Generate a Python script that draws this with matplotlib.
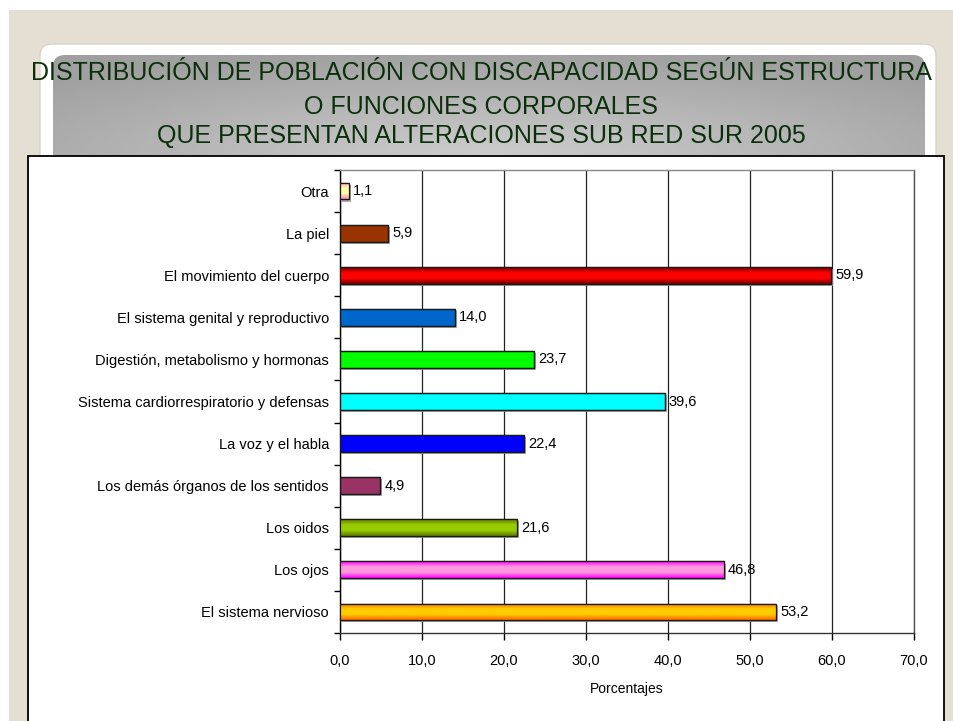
import numpy as np
import matplotlib
matplotlib.use("Agg")
import matplotlib.pyplot as plt
from matplotlib.patches import Rectangle, FancyBboxPatch
from matplotlib.colors import LinearSegmentedColormap
from matplotlib.ticker import FuncFormatter, MultipleLocator
import matplotlib.patheffects as pe

plt.rcParams['font.family'] = ['Liberation Sans', 'DejaVu Sans']

categorias = ["El sistema nervioso", "Los ojos", "Los oidos",
              "Los demás órganos de los sentidos", "La voz y el habla",
              "Sistema cardiorrespiratorio y defensas",
              "Digestión, metabolismo y hormonas",
              "El sistema genital y reproductivo",
              "El movimiento del cuerpo", "La piel", "Otra"]
porcentajes = [53.2, 46.8, 21.6, 4.9, 22.4, 39.6, 23.7, 14.0, 59.9, 5.9, 1.1]
# color base y color de borde del degradado (None = plano)
colores = ["#ffcc00", "#ff99dd", "#99cc00", "#993366", "#0000ff", "#00ffff",
           "#00ff00", "#0066cc", "#ff0000", "#993300", "#ffffaa"]
bordes = ["#ff6600", "#ff00ff", "#5c7a00", None, None, None,
          None, None, "#6a0000", None, "#ff88bb"]

titulo = ["DISTRIBUCIÓN DE POBLACIÓN CON DISCAPACIDAD SEGÚN ESTRUCTURA",
          "O FUNCIONES CORPORALES",
          "QUE PRESENTAN ALTERACIONES SUB RED SUR 2005"]

W, H = 954, 721
fig = plt.figure(figsize=(W / 100, H / 100), dpi=100)
fig.patch.set_facecolor("white")

# fondo tipo diapositiva, en pixeles
bg = fig.add_axes([0, 0, 1, 1])
bg.axis("off")
bg.add_patch(Rectangle((9, 10), W, H, facecolor="#e4ded3", edgecolor="none", zorder=1))
bg.add_patch(FancyBboxPatch((40, 44), 896, 700, boxstyle="round,pad=0,rounding_size=12",
                            facecolor="white", edgecolor="#d8d4cc", lw=1, zorder=2))
banner = FancyBboxPatch((53, 55), 872, 120, boxstyle="round,pad=0,rounding_size=12",
                        facecolor="none", edgecolor="none", zorder=3)
bg.add_patch(banner)
yy, xx = np.mgrid[0:1:120j, 0:1:300j]
r = np.sqrt(((xx - 0.5) / 0.7) ** 2 + ((yy - 0.85) / 0.9) ** 2)
gris = LinearSegmentedColormap.from_list("g", ["#cdcdcd", "#a0a0a0"])
im = bg.imshow(np.clip(r, 0, 1), cmap=gris, extent=[53, 925, 175, 55], aspect="auto",
               zorder=3)
im.set_clip_path(banner)
bg.set_xlim(0, W)
bg.set_ylim(H, 0)
for linea, base in zip(titulo, [80, 114, 143]):
    bg.text(481, base, linea, ha="center", va="baseline", fontsize=18, color="#0b2e0b",
            zorder=4)
bg.add_patch(Rectangle((28, 156), 916, 600, facecolor="white", edgecolor="black", lw=1.3,
                       zorder=5))

# area del grafico
ax = fig.add_axes([340 / W, 1 - 633 / H, (914 - 340) / W, (633 - 170) / H])
ax.set_facecolor("white")
y = np.arange(len(categorias))
alto = 0.4
sombra = [pe.SimplePatchShadow(offset=(1.5, -1.5), shadow_rgbFace="#9a9a9a", alpha=0.8),
          pe.Normal()]
barras = ax.barh(y, porcentajes, height=alto, color=colores, edgecolor="#1a1a1a",
                 lw=0.9, zorder=3)
for b in barras:
    b.set_path_effects(sombra)

for b, c, e in zip(barras, colores, bordes):
    if e is None:
        continue
    cmap = LinearSegmentedColormap.from_list("", [e, c, c, e])
    grad = np.linspace(0, 1, 64).reshape(-1, 1)
    x0, y0 = b.get_x(), b.get_y()
    img = ax.imshow(grad, cmap=cmap, origin="lower", aspect="auto", zorder=3.1,
                    extent=[x0, x0 + b.get_width(), y0, y0 + b.get_height()])
    img.set_clip_path(b)
ax.barh(y, porcentajes, height=alto, facecolor="none", edgecolor="#1a1a1a", lw=0.9, zorder=3.2)

for yi, v in zip(y, porcentajes):
    ax.annotate(f"{v:.1f}".replace(".", ","), (v, yi), xytext=(3, 0),
                textcoords="offset points", va="center", ha="left", fontsize=10.5)

ax.set_xlim(0, 70)
ax.set_ylim(-0.5, len(categorias) - 0.5)
ax.xaxis.set_major_locator(MultipleLocator(10))
ax.xaxis.set_major_formatter(FuncFormatter(lambda v, p: f"{v:.1f}".replace(".", ",")))
ax.set_yticks(y)
ax.set_yticklabels(categorias, fontsize=10.5)
ax.set_yticks(np.arange(-0.5, len(categorias), 1), minor=True)
ax.tick_params(axis="y", which="major", length=0, pad=8)
ax.tick_params(axis="y", which="minor", length=4, width=1, direction="out")
ax.tick_params(axis="x", length=5, width=1, direction="out", labelsize=10.5, pad=10)
ax.grid(axis="x", color="#222222", lw=0.9, zorder=1)
ax.set_axisbelow(True)
ax.spines["left"].set_color("black")
ax.spines["bottom"].set_color("#333333")
ax.spines["top"].set_color("#888888")
ax.spines["right"].set_color("#555555")
for s in ax.spines.values():
    s.set_linewidth(1)
ax.set_xlabel("Porcentajes", fontsize=10, labelpad=10)

fig.savefig("out.png", dpi=100, facecolor=fig.get_facecolor())
